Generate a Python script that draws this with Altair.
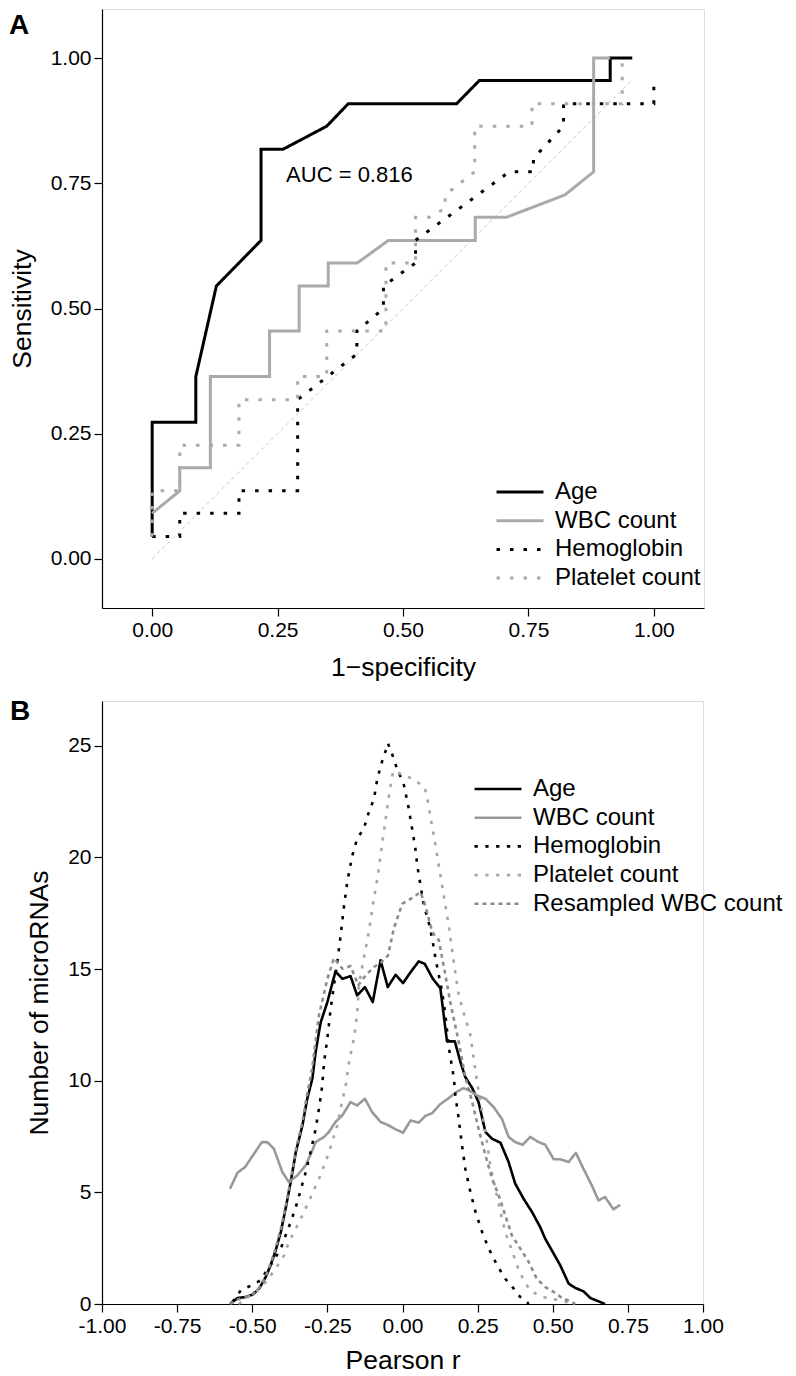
import altair as alt
import pandas as pd

FONT = "Liberation Sans"

SERIES_A = ["Age", "WBC count", "Hemoglobin", "Platelet count"]
SERIES_B = ["Age", "WBC count", "Hemoglobin", "Platelet count", "Resampled WBC count"]

# ---------------- Panel A: ROC curves (1-specificity, sensitivity) ----------------
age_a_x = [0, 0, 0.087, 0.087, 0.128, 0.217, 0.217, 0.261, 0.348, 0.391, 0.607, 0.652, 0.913, 0.913, 0.957]
age_a_y = [0.045, 0.273, 0.273, 0.364, 0.545, 0.636, 0.818, 0.818, 0.864, 0.909, 0.909, 0.955, 0.955, 1.0, 1.0]

wbc_a_x = [0, 0.055, 0.055, 0.116, 0.116, 0.234, 0.234, 0.293, 0.293, 0.351, 0.351, 0.409, 0.471,
           0.644, 0.644, 0.706, 0.823, 0.880, 0.880, 0.913]
wbc_a_y = [0.091, 0.136, 0.182, 0.182, 0.364, 0.364, 0.455, 0.455, 0.545, 0.545, 0.591, 0.591, 0.636,
           0.636, 0.682, 0.682, 0.727, 0.773, 1.0, 1.0]

hgb_a_x = [0, 0.055, 0.055, 0.173, 0.173, 0.290, 0.290, 0.408, 0.408, 0.461, 0.461, 0.525, 0.525,
           0.712, 0.760, 0.760, 0.820, 0.820, 1.0, 1.0]
hgb_a_y = [0.045, 0.045, 0.091, 0.091, 0.136, 0.136, 0.318, 0.409, 0.455, 0.500, 0.545, 0.591, 0.636,
           0.773, 0.773, 0.800, 0.864, 0.909, 0.909, 0.955]

plt_a_x = [0, 0, 0.055, 0.055, 0.173, 0.173, 0.290, 0.290, 0.348, 0.348, 0.466, 0.466, 0.525, 0.525,
           0.552, 0.584, 0.584, 0.643, 0.643, 0.757, 0.757, 0.937, 0.937]
plt_a_y = [0.045, 0.136, 0.136, 0.227, 0.227, 0.318, 0.318, 0.364, 0.364, 0.455, 0.455, 0.591, 0.591,
           0.682, 0.682, 0.700, 0.727, 0.773, 0.864, 0.864, 0.909, 0.909, 1.0]

diag_x = [0, 0.957]
diag_y = [0, 0.957]

auc_x = [0.267]
auc_y = [0.766]
auc_label = ["AUC = 0.816"]

# ---------------- Panel B: distribution of Pearson r ----------------
age_b_r = [-0.574, -0.549, -0.522, -0.499, -0.477, -0.455, -0.439, -0.422, -0.405, -0.389, -0.372, -0.355,
           -0.333, -0.317, -0.300, -0.289, -0.278, -0.272, -0.261, -0.250, -0.223, -0.200, -0.173, -0.151,
           -0.125, -0.099, -0.073, -0.049, -0.023, 0.002, 0.027, 0.054, 0.074, 0.101, 0.126, 0.148, 0.174,
           0.193, 0.209, 0.232, 0.253, 0.276, 0.298, 0.326, 0.353, 0.375, 0.403, 0.431, 0.458, 0.475, 0.497,
           0.525, 0.553, 0.575, 0.602, 0.625, 0.652, 0.674]
age_b_n = [0.0, 0.27, 0.31, 0.42, 0.69, 1.21, 1.73, 2.40, 3.22, 4.27, 5.46, 6.80,
           8.00, 9.19, 10.09, 11.28, 12.18, 12.62, 13.07, 13.52, 14.89, 14.56, 14.68, 13.82,
           14.19, 13.52, 15.39, 14.19, 14.74, 14.37, 14.86, 15.34, 15.23, 14.56, 14.14, 11.76, 11.76,
           10.83, 10.16, 9.67, 9.04, 7.70, 7.40, 7.22, 6.36, 5.39, 4.71, 4.12, 3.45, 2.92, 2.40,
           1.73, 0.91, 0.72, 0.57, 0.27, 0.12, 0.0]

wbc_b_r = [-0.574, -0.549, -0.524, -0.494, -0.468, -0.450, -0.428, -0.400, -0.378, -0.350, -0.322, -0.300,
           -0.289, -0.261, -0.245, -0.223, -0.200, -0.173, -0.151, -0.125, -0.101, -0.073, -0.051, -0.023,
           0.002, 0.027, 0.054, 0.076, 0.099, 0.124, 0.151, 0.179, 0.201, 0.217, 0.248, 0.276, 0.303,
           0.331, 0.353, 0.375, 0.400, 0.425, 0.453, 0.475, 0.503, 0.525, 0.553, 0.577, 0.602, 0.630,
           0.652, 0.674, 0.702, 0.724]
wbc_b_n = [5.16, 5.88, 6.13, 6.73, 7.25, 7.25, 6.95, 5.91, 5.46, 5.76, 6.21, 6.88,
           7.25, 7.48, 7.70, 8.15, 8.45, 9.04, 8.89, 9.19, 8.59, 8.15, 8.03, 7.82,
           7.67, 8.22, 8.12, 8.42, 8.55, 8.93, 9.19, 9.49, 9.66, 9.60, 9.34, 9.19, 8.82,
           8.29, 7.48, 7.25, 7.13, 7.48, 7.25, 7.13, 6.48, 6.48, 6.36, 6.77, 6.06, 5.31,
           4.64, 4.79, 4.24, 4.44]

hgb_b_r = [-0.566, -0.538, -0.499, -0.472, -0.455, -0.428, -0.405, -0.389, -0.372, -0.355, -0.339, -0.322,
           -0.306, -0.289, -0.278, -0.267, -0.261, -0.250, -0.239, -0.228, -0.217, -0.206, -0.195, -0.184,
           -0.167, -0.151, -0.129, -0.112, -0.095, -0.084, -0.067, -0.056, -0.049, -0.038, -0.029, -0.018,
           0.004, 0.021, 0.032, 0.043, 0.049, 0.060, 0.071, 0.087, 0.099, 0.110, 0.121, 0.132, 0.143,
           0.154, 0.171, 0.176, 0.187, 0.198, 0.209, 0.226, 0.243, 0.265, 0.287, 0.315, 0.342, 0.370,
           0.392, 0.414, 0.420]
hgb_b_n = [0.09, 0.61, 0.86, 1.06, 1.43, 1.96, 2.48, 3.07, 3.67, 4.34, 5.09, 5.91,
           6.80, 7.85, 8.74, 9.79, 10.83, 11.90, 13.22, 14.30, 15.31, 16.50, 17.77, 18.89,
           20.08, 20.83, 21.28, 22.02, 22.62, 23.51, 24.34, 24.78, 25.11, 24.78, 24.38, 23.96,
           23.29, 22.17, 21.28, 20.38, 19.64, 18.74, 17.85, 17.10, 16.35, 15.46, 14.71, 13.97, 12.92,
           11.50, 10.09, 9.34, 8.29, 7.10, 6.06, 5.01, 4.12, 3.22, 2.48, 1.73, 1.13, 0.69,
           0.31, 0.09, 0.0]

plt_b_r = [-0.545, -0.522, -0.488, -0.455, -0.422, -0.394, -0.378, -0.355, -0.328, -0.300, -0.278, -0.256,
           -0.234, -0.217, -0.206, -0.189, -0.178, -0.162, -0.151, -0.145, -0.129, -0.112, -0.099, -0.084,
           -0.073, -0.067, -0.056, -0.045, -0.032, -0.023, -0.003, 0.021, 0.049, 0.074, 0.085, 0.096,
           0.108, 0.119, 0.130, 0.141, 0.152, 0.163, 0.174, 0.185, 0.200, 0.226, 0.237, 0.248, 0.265,
           0.281, 0.292, 0.309, 0.326, 0.342, 0.364, 0.381, 0.403, 0.425, 0.453, 0.486, 0.531, 0.564]
plt_b_n = [0.0, 0.24, 0.54, 0.98, 1.58, 2.18, 2.78, 3.37, 4.12, 4.94, 5.61, 6.36,
           7.25, 8.00, 8.74, 9.79, 10.83, 11.88, 12.92, 14.27, 15.46, 16.65, 17.85, 19.04,
           20.08, 20.68, 21.72, 22.77, 23.81, 23.89, 23.69, 23.59, 23.37, 23.14, 22.47, 21.57,
           20.68, 19.78, 18.89, 17.99, 17.10, 16.06, 15.01, 13.97, 13.20, 12.03, 10.98, 9.94, 8.59,
           7.25, 6.21, 5.16, 4.12, 3.22, 2.40, 1.73, 1.06, 0.61, 0.39, 0.24, 0.16, 0.0]

res_b_r = [-0.574, -0.549, -0.522, -0.499, -0.477, -0.455, -0.439, -0.422, -0.405, -0.389, -0.372, -0.355,
           -0.333, -0.317, -0.300, -0.289, -0.278, -0.250, -0.228, -0.200, -0.173, -0.147, -0.123, -0.095,
           -0.070, -0.048, -0.029, -0.001, 0.027, 0.060, 0.076, 0.099, 0.121, 0.143, 0.159, 0.187, 0.209,
           0.232, 0.253, 0.276, 0.298, 0.320, 0.342, 0.364, 0.392, 0.420, 0.447, 0.475, 0.503, 0.531,
           0.558, 0.575]
res_b_n = [0.0, 0.20, 0.30, 0.45, 0.72, 1.25, 1.80, 2.50, 3.35, 4.35, 5.55, 6.90,
           8.15, 9.40, 10.60, 11.80, 12.92, 14.56, 15.49, 15.01, 15.13, 14.27, 14.71, 15.09,
           15.31, 15.61, 16.80, 17.92, 18.14, 18.44, 17.85, 16.65, 16.28, 14.71, 13.52, 11.73, 10.16,
           9.04, 7.85, 6.66, 5.61, 4.87, 3.97, 3.07, 2.48, 1.88, 1.13, 0.76, 0.54, 0.27,
           0.12, 0.0]


def long_table(names, xs_list, ys_list, xname, yname):
    rows = []
    for name, xs, ys in zip(names, xs_list, ys_list):
        for i, (x, y) in enumerate(zip(xs, ys)):
            rows.append({"series": name, xname: x, yname: y, "idx": i})
    return pd.DataFrame(rows)


df_a = long_table(SERIES_A, [age_a_x, wbc_a_x, hgb_a_x, plt_a_x],
                  [age_a_y, wbc_a_y, hgb_a_y, plt_a_y], "fpr", "tpr")
df_diag = pd.DataFrame({"fpr": diag_x, "tpr": diag_y, "idx": [0, 1]})
df_auc = pd.DataFrame({"fpr": auc_x, "tpr": auc_y, "label": auc_label})

df_b = long_table(SERIES_B, [age_b_r, wbc_b_r, hgb_b_r, plt_b_r, res_b_r],
                  [age_b_n, wbc_b_n, hgb_b_n, plt_b_n, res_b_n], "r", "n")

axis_common = dict(
    domainColor="black", domainWidth=1.2, tickColor="black", tickWidth=1.2, tickSize=8,
    labelColor="black", labelFontSize=21, labelFont=FONT, labelPadding=3,
    titleFontSize=26.5, titleFont=FONT, titleFontWeight="normal", titleColor="black",
    grid=False, labelFlush=False, labelOverlap=False,
)

def legend_at(x, y):
    return alt.Legend(
        title=None, orient="none", legendX=x, legendY=y, symbolType="stroke",
        symbolSize=2209, labelFontSize=24, labelFont=FONT, labelColor="black",
        labelOffset=10, rowPadding=4.7, clipHeight=24, labelLimit=500,
    )

# ---------------- Panel A ----------------
W_A, H_A = 602, 599
xA = alt.X("fpr:Q", scale=alt.Scale(domain=[-0.1, 1.1], nice=False, zero=False),
           axis=alt.Axis(values=[0, 0.25, 0.5, 0.75, 1.0], format=".2f", titlePadding=14,
                         title="1\u2212specificity", **axis_common))
yA = alt.Y("tpr:Q", scale=alt.Scale(domain=[-0.098, 1.098], nice=False, zero=False),
           axis=alt.Axis(values=[0, 0.25, 0.5, 0.75, 1.0], format=".2f", titlePadding=14,
                         title="Sensitivity", **axis_common))

legA = legend_at(393, 471)
lines_a = alt.Chart(df_a).mark_line(strokeCap="butt", strokeJoin="miter").encode(
    x=xA, y=yA, order="idx:Q",
    color=alt.Color("series:N", scale=alt.Scale(domain=SERIES_A,
                    range=["#000000", "#aaaaaa", "#000000", "#aaaaaa"]), legend=legA),
    strokeDash=alt.StrokeDash("series:N", scale=alt.Scale(domain=SERIES_A,
                    range=[[1, 0], [1, 0], [3.5, 10], [3.5, 10]]), legend=legA),
    strokeWidth=alt.StrokeWidth("series:N", scale=alt.Scale(domain=SERIES_A,
                    range=[3, 3, 3.5, 3.5]), legend=legA),
)
diag_a = alt.Chart(df_diag).mark_line(color="#c8c8c8", strokeWidth=1, strokeDash=[4, 3]).encode(
    x="fpr:Q", y="tpr:Q", order="idx:Q")
auc_a = alt.Chart(df_auc).mark_text(align="left", baseline="middle", fontSize=22, font=FONT,
                                    color="black").encode(x="fpr:Q", y="tpr:Q", text="label:N")
letter_a = alt.Chart(pd.DataFrame({"t": ["A"]})).mark_text(
    align="left", baseline="alphabetic", fontSize=28, fontWeight="bold", font=FONT, color="black"
).encode(x=alt.value(-93), y=alt.value(25), text="t:N")

panel_a = alt.layer(diag_a, lines_a, auc_a, letter_a).properties(width=W_A, height=H_A)

# ---------------- Panel B ----------------
W_B, H_B = 601, 603
xB = alt.X("r:Q", scale=alt.Scale(domain=[-1, 1], nice=False, zero=False),
           axis=alt.Axis(values=[-1, -0.75, -0.5, -0.25, 0, 0.25, 0.5, 0.75, 1],
                         labelExpr="datum.value < 0 ? '-' + format(abs(datum.value), '.2f') : format(datum.value, '.2f')",
                         titlePadding=11, title="Pearson r", **axis_common))
yB = alt.Y("n:Q", scale=alt.Scale(domain=[0, 27], nice=False, zero=False),
           axis=alt.Axis(values=[0, 5, 10, 15, 20, 25], format="d", titlePadding=14,
                         title="Number of microRNAs", **axis_common))

legB = legend_at(371, 76)
lines_b = alt.Chart(df_b).mark_line(strokeCap="butt", strokeJoin="round").encode(
    x=xB, y=yB, order="idx:Q",
    color=alt.Color("series:N", scale=alt.Scale(domain=SERIES_B,
                    range=["#000000", "#999999", "#000000", "#a6a6a6", "#8c8c8c"]), legend=legB),
    strokeDash=alt.StrokeDash("series:N", scale=alt.Scale(domain=SERIES_B,
                    range=[[1, 0], [1, 0], [3.3, 7.5], [3.3, 7.5], [4, 4]]), legend=legB),
    strokeWidth=alt.StrokeWidth("series:N", scale=alt.Scale(domain=SERIES_B,
                    range=[2.6, 2.6, 3.3, 3.3, 1.3]), legend=legB),
)
letter_b = alt.Chart(pd.DataFrame({"t": ["B"]})).mark_text(
    align="left", baseline="alphabetic", fontSize=28, fontWeight="bold", font=FONT, color="black"
).encode(x=alt.value(-92), y=alt.value(19), text="t:N")

panel_b = alt.layer(lines_b, letter_b).properties(width=W_B, height=H_B)

chart = alt.vconcat(panel_a, panel_b, spacing=16).resolve_scale(
    color="independent", strokeDash="independent", strokeWidth="independent"
).resolve_legend(
    color="independent", strokeDash="independent", strokeWidth="independent"
).properties(
    padding={"left": 0, "top": 0, "right": 0, "bottom": 0}
).configure_view(stroke=None).configure(font=FONT)

chart.save("out.html", embed_options={"renderer": "svg", "actions": False})
